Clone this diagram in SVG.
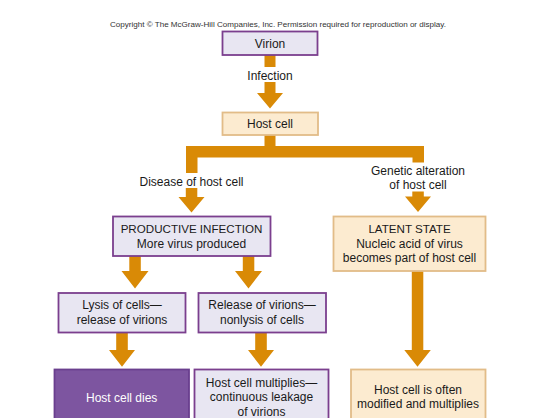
<svg xmlns="http://www.w3.org/2000/svg" width="553" height="418" viewBox="0 0 553 418">
<defs>
<style>
text{font-family:"Liberation Sans",Arial,sans-serif;font-size:12px;fill:#1a1a1a;text-anchor:middle}
.caps{font-size:11.6px}
.lav{fill:#E8E6F2;stroke:#7B3F8E;stroke-width:1.8}
.peach{fill:#FCEBD0;stroke:#E2BC88;stroke-width:1.8}
.dark{fill:#7D55A0;stroke:#6A3F8E;stroke-width:1.8}
.wt{fill:#ffffff}
.arr{fill:#D98A06}
.copy{font-size:7.5px;fill:#333}
</style>
</defs>
<rect width="553" height="418" fill="#ffffff"/>
<text class="copy" x="278" y="27" textLength="336" lengthAdjust="spacingAndGlyphs">Copyright © The McGraw-Hill Companies, Inc. Permission required for reproduction or display.</text>
<g id="connectors" class="arr">
<rect x="264.5" y="55" width="11" height="12"/>
<path d="M264.5,82 H275.5 V93 H283 L270,108.5 L257,93 H264.5 Z"/>
<text x="270" y="79.5" style="fill:#1a1a1a">Infection</text>
<rect x="264.5" y="135" width="11" height="12"/>
<path d="M186,146 H424 V162.5 H412.5 V157.5 H197.5 V173 H186 Z"/>
<path d="M185.8,188 H197.3 V197 H204.5 L191.5,212.5 L178.5,197 H185.8 Z"/>
<text x="191.5" y="186">Disease of host cell</text>
<path d="M412.3,191.5 H423.8 V196.5 H431 L418,212 L405,196.5 H412.3 Z"/>
<text x="418" y="175">Genetic alteration</text>
<text x="418" y="188.5">of host cell</text>
<path d="M129.3,256 H140.8 V271 H148.5 L135,288.5 L121.5,271 H129.3 Z"/>
<path d="M242.8,256 H254.3 V271 H262 L248.5,288.5 L235,271 H242.8 Z"/>
<path d="M116.2,332.5 H127.8 V350 H135 L122,366.8 L109,350 H116.2 Z"/>
<path d="M255.2,332.5 H266.8 V350 H274 L261,366.8 L248,350 H255.2 Z"/>
<path d="M411.8,271 H423.3 V350 H430.8 L417.5,366.8 L404.3,350 H411.8 Z"/>
</g>
<g id="virion">
<rect class="lav" x="222.5" y="31.5" width="95" height="23.5"/>
<text x="270" y="47.5">Virion</text>
</g>
<g id="host-cell">
<rect class="peach" x="222.5" y="112.5" width="95.5" height="22.5"/>
<text x="270" y="128">Host cell</text>
</g>
<g id="productive-infection">
<rect class="lav" x="113" y="216.5" width="157.5" height="39.5"/>
<text class="caps" x="191.5" y="233.3">PRODUCTIVE INFECTION</text>
<text x="191.5" y="248.3">More virus produced</text>
</g>
<g id="latent-state">
<rect class="peach" x="333.5" y="216.5" width="152" height="54.5"/>
<text class="caps" x="409.5" y="233.3">LATENT STATE</text>
<text x="409.5" y="247.5">Nucleic acid of virus</text>
<text x="409.5" y="261.7">becomes part of host cell</text>
</g>
<g id="lysis">
<rect class="lav" x="58.5" y="293" width="127" height="39.5"/>
<text x="122" y="309.3">Lysis of cells—</text>
<text x="122" y="324.3">release of virions</text>
</g>
<g id="release">
<rect class="lav" x="198.5" y="293" width="127.5" height="39.5"/>
<text x="262" y="309.3">Release of virions—</text>
<text x="262" y="324.3">nonlysis of cells</text>
</g>
<g id="host-cell-dies">
<rect class="dark" x="54.5" y="369.5" width="134.5" height="60"/>
<text class="wt" x="121.7" y="402">Host cell dies</text>
</g>
<g id="host-cell-multiplies">
<rect class="lav" x="194.5" y="369.5" width="134" height="60"/>
<text x="261.5" y="386.7">Host cell multiplies—</text>
<text x="261.5" y="401">continuous leakage</text>
<text x="261.5" y="415.5">of virions</text>
</g>
<g id="host-cell-modified">
<rect class="peach" x="351" y="369.5" width="134.5" height="60"/>
<text x="418" y="393.5">Host cell is often</text>
<text x="418" y="408">modified and multiplies</text>
</g>
</svg>
